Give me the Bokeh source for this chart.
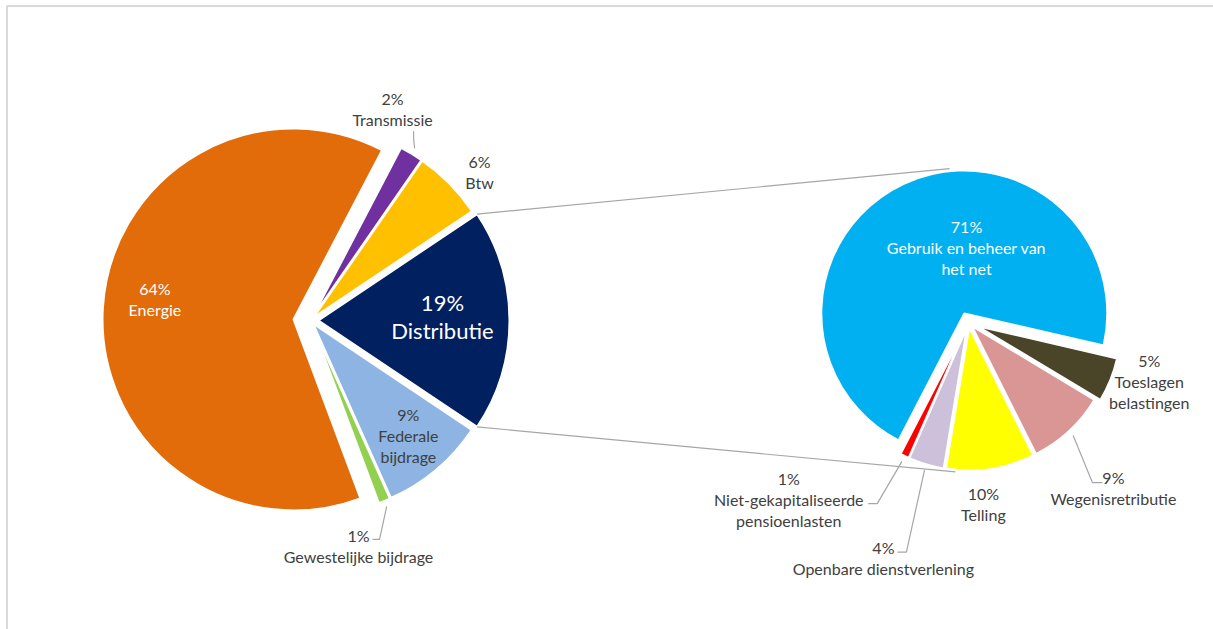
import math
from bokeh.plotting import figure
from bokeh.models import Range1d
from bokeh.embed import file_html
from bokeh.resources import INLINE
from bokeh.core.properties import value

# ---------------- data ----------------
main_names = ["Distributie", "Federale\nbijdrage", "Gewestelijke bijdrage", "Energie", "Transmissie", "Btw"]
main_values = [19, 9, 1, 64, 2, 6]
main_colors = ["#002060", "#8DB4E2", "#92D050", "#E26B0A", "#7030A0", "#FFC000"]

sub_names = ["Gebruik en beheer van\nhet net", "Toeslagen\nbelastingen", "Wegenisretributie", "Telling",
             "Openbare dienstverlening", "Niet-gekapitaliseerde\npensioenlasten"]
sub_values = [71, 5, 9, 10, 4, 1]
sub_colors = ["#00B0F0", "#4A4529", "#DA9694", "#FFFF00", "#CCC0DA", "#FF0000"]

# ---------------- layout ----------------
W, H = 1213, 629
C1 = (310, 309); R1 = 191
C2 = (968, 307); R2 = 143
main_explode = [8, 4, 4, 17, 4, 4]
sub_explode = [10, 10, 5, 5, 5, 5]
sub_first_edge = -13.0  # degrees: right edge of the large slice
# label polar positions (distance, angle deg) relative to pie centre
main_lab = [(132, 1.7), (151, -49.6), (231, -78), (157, 172.3), (227, 68.8), (225, 41.3)]
sub_lab = [(75, 91.5), (190, -18), (220, -48.8), (182, -85.3), (250, -109.9), (252, -135.5)]
main_white = [True, False, False, True, False, False]
sub_white = [True, False, False, False, False, False]
main_fs = ["22px", "16px", "16px", "16px", "16px", "16px"]
main_lh = [28, 21, 21, 21, 21, 21]
# leader lines: (elbow dx, dy, end dx, dy) relative to label centre
main_leader = {2: (21, 7, 14, 7), 4: (21, -29.5, 21, -22.5)}
sub_leader = {2: (-21, 5.5, -11, 5.5), 4: (23, 5.5, 14, 5.5), 5: (88.5, -4.5, 79.5, -4.5)}

FONT = "Lato"
DARK = "#404040"

p = figure(width=W, height=H, output_backend="svg", toolbar_location=None,
           x_range=Range1d(0, W), y_range=Range1d(629 - H, 629),
           min_border=0, outline_line_color=None)
p.axis.visible = False
p.grid.visible = False
p.background_fill_color = "white"
p.border_fill_color = "white"


def slices(values, start_deg):
    tot = float(sum(values))
    out = []
    a = start_deg
    for v in values:
        sw = v / tot * 360.0
        out.append((a - sw, a))  # (start, end) anticlock
        a -= sw
    return out


def draw_pie(C, R, names, values, colors, explode, start, labs, whites, fss, lhs, leaders):
    sl = slices(values, start)
    info = []
    for i, (s, e) in enumerate(sl):
        mid = math.radians((s + e) / 2)
        cx = C[0] + explode[i] * math.cos(mid)
        cy = C[1] + explode[i] * math.sin(mid)
        p.wedge(x=[cx], y=[cy], radius=R, start_angle=[math.radians(s)], end_angle=[math.radians(e)],
                fill_color=colors[i], line_color="white", line_width=2)
        info.append((cx, cy, s, e, mid))
    for i, (d, ang) in enumerate(labs):
        lx = C[0] + d * math.cos(math.radians(ang))
        ly = C[1] + d * math.sin(math.radians(ang))
        lines = [f"{values[i]}%"] + names[i].split("\n")
        n = len(lines)
        lh = lhs[i]
        for k, t in enumerate(lines):
            yy = ly + lh * ((n - 1) / 2 - k)
            p.text(x=[lx], y=[yy], text=[t], text_align="center", text_baseline="middle",
                   text_font=value(FONT), text_font_size=fss[i],
                   text_color="white" if whites[i] else DARK)
        if i in leaders:
            ex, ey, tx, ty = leaders[i]
            cx, cy, s, e, mid = info[i]
            sx = cx + (R + 6) * math.cos(mid)
            sy = cy + (R + 6) * math.sin(mid)
            p.line(x=[sx, lx + ex, lx + tx], y=[sy, ly + ey, ly + ty], line_color="#A6A6A6", line_width=1.2)
    return info


half = main_values[0] / sum(main_values) * 360.0 / 2
info1 = draw_pie(C1, R1, main_names, main_values, main_colors, main_explode, half,
                 main_lab, main_white, main_fs, main_lh, main_leader)
sub_start = sub_first_edge + sub_values[0] / sum(sub_values) * 360.0
info2 = draw_pie(C2, R2, sub_names, sub_values, sub_colors, sub_explode, sub_start,
                 sub_lab, sub_white, ["16px"] * 6, [21] * 6, sub_leader)

# connector lines from Distributie slice to secondary pie
cx, cy, s, e, mid = info1[0]
top_l = (cx + R1 * math.cos(math.radians(e)), cy + R1 * math.sin(math.radians(e)))
bot_l = (cx + R1 * math.cos(math.radians(s)), cy + R1 * math.sin(math.radians(s)))
top_r = (C2[0] + (R2 + 12) * math.cos(math.radians(97)), C2[1] + (R2 + 12) * math.sin(math.radians(97)))
bot_r = (C2[0] + (R2 + 7) * math.cos(math.radians(-95)), C2[1] + (R2 + 7) * math.sin(math.radians(-95)))
p.line(x=[top_l[0], top_r[0]], y=[top_l[1], top_r[1]], line_color="#A6A6A6", line_width=1.2)
p.line(x=[bot_l[0], bot_r[0]], y=[bot_l[1], bot_r[1]], line_color="#A6A6A6", line_width=1.2)

# chart area border (left and top edges visible)
p.line(x=[6.5, 6.5, W], y=[0, 629 - 5.5, 629 - 5.5], line_color="#D9D9D9", line_width=2)

open("out.html", "w").write(file_html(p, INLINE))
